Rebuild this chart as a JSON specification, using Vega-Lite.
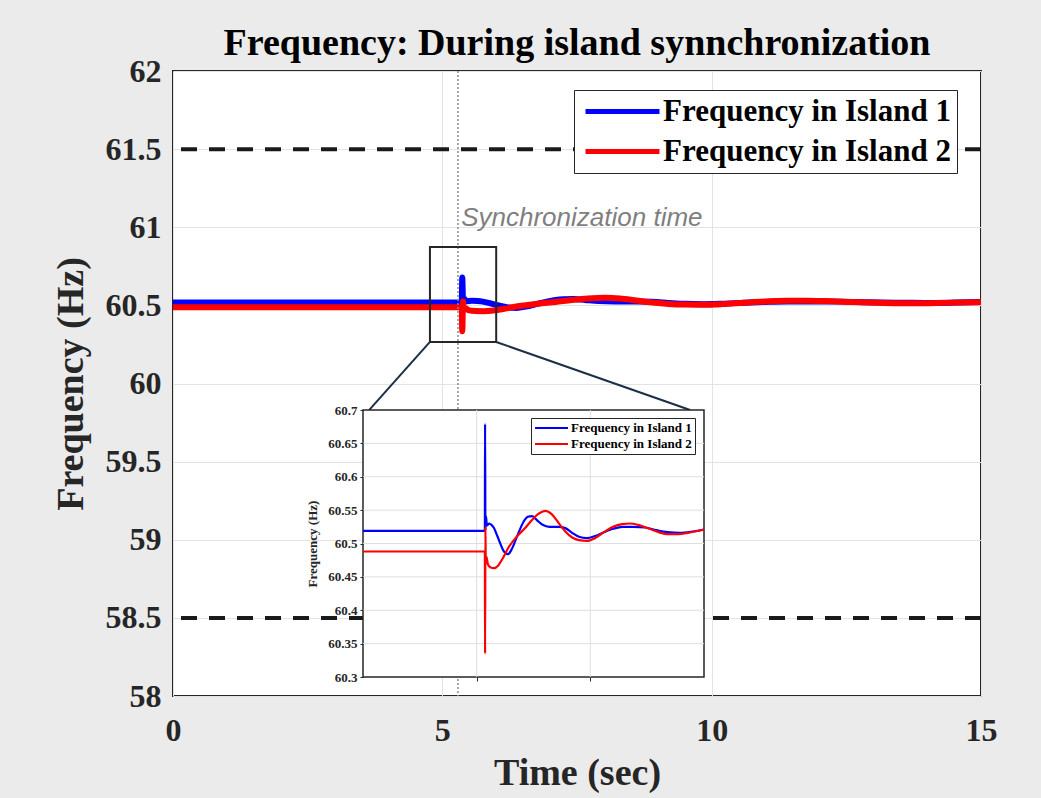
{
  "$schema": "https://vega.github.io/schema/vega-lite/v6.json",
  "width": 808,
  "height": 625,
  "autosize": {"type": "none"},
  "padding": {"left": 173, "top": 71, "right": 60, "bottom": 102},
  "background": "#ebebeb",
  "config": {
    "view": {"fill": "white", "stroke": "#262626", "strokeWidth": 2},
    "font": "Liberation Serif"
  },
  "title": {
    "text": "Frequency: During island synnchronization",
    "font": "Liberation Serif",
    "fontSize": 38,
    "fontWeight": "bold",
    "color": "#000000",
    "anchor": "middle",
    "frame": "group",
    "baseline": "alphabetic",
    "offset": 0,
    "dy": 38
  },
  "datasets": {
    "freq": [
      {"t": 0, "f": 60.519, "s": "Frequency in Island 1"},
      {"t": 5.36, "f": 60.519, "s": "Frequency in Island 1"},
      {"t": 5.37, "f": 60.679, "s": "Frequency in Island 1"},
      {"t": 5.385, "f": 60.52, "s": "Frequency in Island 1"},
      {"t": 5.41, "f": 60.541, "s": "Frequency in Island 1"},
      {"t": 5.45, "f": 60.527, "s": "Frequency in Island 1"},
      {"t": 5.55, "f": 60.53, "s": "Frequency in Island 1"},
      {"t": 5.65, "f": 60.528, "s": "Frequency in Island 1"},
      {"t": 5.75, "f": 60.524, "s": "Frequency in Island 1"},
      {"t": 5.9, "f": 60.512, "s": "Frequency in Island 1"},
      {"t": 6.05, "f": 60.499, "s": "Frequency in Island 1"},
      {"t": 6.2, "f": 60.488, "s": "Frequency in Island 1"},
      {"t": 6.38, "f": 60.484, "s": "Frequency in Island 1"},
      {"t": 6.55, "f": 60.492, "s": "Frequency in Island 1"},
      {"t": 6.78, "f": 60.511, "s": "Frequency in Island 1"},
      {"t": 7.07, "f": 60.533, "s": "Frequency in Island 1"},
      {"t": 7.25, "f": 60.54, "s": "Frequency in Island 1"},
      {"t": 7.44, "f": 60.541, "s": "Frequency in Island 1"},
      {"t": 7.65, "f": 60.535, "s": "Frequency in Island 1"},
      {"t": 7.9, "f": 60.528, "s": "Frequency in Island 1"},
      {"t": 8.2, "f": 60.525, "s": "Frequency in Island 1"},
      {"t": 8.6, "f": 60.525, "s": "Frequency in Island 1"},
      {"t": 8.9, "f": 60.523, "s": "Frequency in Island 1"},
      {"t": 9.2, "f": 60.516, "s": "Frequency in Island 1"},
      {"t": 9.5, "f": 60.51, "s": "Frequency in Island 1"},
      {"t": 9.85, "f": 60.508, "s": "Frequency in Island 1"},
      {"t": 10.2, "f": 60.511, "s": "Frequency in Island 1"},
      {"t": 10.6, "f": 60.517, "s": "Frequency in Island 1"},
      {"t": 11.0, "f": 60.522, "s": "Frequency in Island 1"},
      {"t": 11.4, "f": 60.525, "s": "Frequency in Island 1"},
      {"t": 11.9, "f": 60.525, "s": "Frequency in Island 1"},
      {"t": 12.4, "f": 60.524, "s": "Frequency in Island 1"},
      {"t": 12.9, "f": 60.52, "s": "Frequency in Island 1"},
      {"t": 13.4, "f": 60.517, "s": "Frequency in Island 1"},
      {"t": 13.95, "f": 60.516, "s": "Frequency in Island 1"},
      {"t": 14.5, "f": 60.518, "s": "Frequency in Island 1"},
      {"t": 15, "f": 60.521, "s": "Frequency in Island 1"},
      {"t": 0, "f": 60.488, "s": "Frequency in Island 2"},
      {"t": 5.36, "f": 60.488, "s": "Frequency in Island 2"},
      {"t": 5.37, "f": 60.335, "s": "Frequency in Island 2"},
      {"t": 5.385, "f": 60.525, "s": "Frequency in Island 2"},
      {"t": 5.4, "f": 60.47, "s": "Frequency in Island 2"},
      {"t": 5.43, "f": 60.48, "s": "Frequency in Island 2"},
      {"t": 5.5, "f": 60.468, "s": "Frequency in Island 2"},
      {"t": 5.62, "f": 60.464, "s": "Frequency in Island 2"},
      {"t": 5.76, "f": 60.463, "s": "Frequency in Island 2"},
      {"t": 5.95, "f": 60.467, "s": "Frequency in Island 2"},
      {"t": 6.15, "f": 60.478, "s": "Frequency in Island 2"},
      {"t": 6.4, "f": 60.494, "s": "Frequency in Island 2"},
      {"t": 6.78, "f": 60.511, "s": "Frequency in Island 2"},
      {"t": 7.1, "f": 60.522, "s": "Frequency in Island 2"},
      {"t": 7.4, "f": 60.534, "s": "Frequency in Island 2"},
      {"t": 7.7, "f": 60.544, "s": "Frequency in Island 2"},
      {"t": 8.03, "f": 60.549, "s": "Frequency in Island 2"},
      {"t": 8.3, "f": 60.544, "s": "Frequency in Island 2"},
      {"t": 8.6, "f": 60.531, "s": "Frequency in Island 2"},
      {"t": 8.9, "f": 60.518, "s": "Frequency in Island 2"},
      {"t": 9.2, "f": 60.509, "s": "Frequency in Island 2"},
      {"t": 9.5, "f": 60.505, "s": "Frequency in Island 2"},
      {"t": 9.85, "f": 60.504, "s": "Frequency in Island 2"},
      {"t": 10.2, "f": 60.508, "s": "Frequency in Island 2"},
      {"t": 10.6, "f": 60.517, "s": "Frequency in Island 2"},
      {"t": 11.0, "f": 60.525, "s": "Frequency in Island 2"},
      {"t": 11.4, "f": 60.529, "s": "Frequency in Island 2"},
      {"t": 11.75, "f": 60.53, "s": "Frequency in Island 2"},
      {"t": 12.1, "f": 60.528, "s": "Frequency in Island 2"},
      {"t": 12.6, "f": 60.522, "s": "Frequency in Island 2"},
      {"t": 13.0, "f": 60.517, "s": "Frequency in Island 2"},
      {"t": 13.4, "f": 60.514, "s": "Frequency in Island 2"},
      {"t": 13.87, "f": 60.514, "s": "Frequency in Island 2"},
      {"t": 14.3, "f": 60.516, "s": "Frequency in Island 2"},
      {"t": 15, "f": 60.521, "s": "Frequency in Island 2"}
    ],
    "limits": [{"level": 61.5}, {"level": 58.5}],
    "sync": [{"ts": 5.29, "tx": 5.35, "ty": 61.01, "label": "Synchronization time"}],
    "zoombox": [{"zx0": 4.77, "zx1": 6.0, "zy0": 60.266, "zy1": 60.874}],
    "connectors": [
      {"cx": 4.77, "cy": 60.266, "cx2": 3.64, "cy2": 59.83},
      {"cx": 6.0, "cy": 60.266, "cx2": 9.6, "cy2": 59.83}
    ],
    "insetBox": [{"bx0": 0, "bx1": 15, "by0": 60.3, "by1": 60.7}],
    "insetGridX": [{"gx": 5}, {"gx": 10}],
    "insetGridY": [{"gy": 60.35}, {"gy": 60.4}, {"gy": 60.45}, {"gy": 60.5}, {"gy": 60.55}, {"gy": 60.6}, {"gy": 60.65}]
  },
  "layer": [
    {
      "data": {"name": "freq"},
      "mark": {"type": "line", "strokeWidth": 6, "interpolate": "monotone"},
      "encoding": {
        "x": {
          "field": "t", "type": "quantitative",
          "scale": {"domain": [0, 15], "nice": false, "zero": false},
          "axis": {
            "values": [0, 5, 10, 15], "title": "Time (sec)",
            "labelFont": "Liberation Serif", "labelFontWeight": "bold", "labelFontSize": 32,
            "labelColor": "#262626", "labelPadding": 19, "labelFlush": false,
            "ticks": false, "domain": false,
            "grid": true, "gridColor": "#e3e3e3",
            "titleFont": "Liberation Serif", "titleFontWeight": "bold", "titleFontSize": 38,
            "titleColor": "#262626", "titlePadding": 8
          }
        },
        "y": {
          "field": "f", "type": "quantitative",
          "scale": {"domain": [58, 62], "nice": false, "zero": false},
          "axis": {
            "values": [58, 58.5, 59, 59.5, 60, 60.5, 61, 61.5, 62], "format": "~g",
            "title": "Frequency (Hz)",
            "labelFont": "Liberation Serif", "labelFontWeight": "bold", "labelFontSize": 32,
            "labelColor": "#262626", "labelPadding": 12, "labelFlush": false,
            "ticks": false, "domain": false,
            "grid": true, "gridColor": "#e3e3e3",
            "titleFont": "Liberation Serif", "titleFontWeight": "bold", "titleFontSize": 38,
            "titleColor": "#262626", "titlePadding": 15
          }
        },
        "color": {
          "field": "s", "type": "nominal",
          "scale": {"domain": ["Frequency in Island 1", "Frequency in Island 2"], "range": ["#0000ff", "#ff0000"]},
          "legend": {
            "title": null, "orient": "none", "legendX": 401, "legendY": 19,
            "symbolType": "stroke", "symbolSize": 5476, "symbolStrokeWidth": 5,
            "clipHeight": 31, "rowPadding": 8, "padding": 6, "symbolOffset": 3, "labelOffset": 1,
            "labelFont": "Liberation Serif", "labelFontWeight": "bold", "labelFontSize": 31,
            "labelColor": "#000000", "labelLimit": 0,
            "strokeColor": "#262626", "fillColor": "white"
          }
        }
      }
    },
    {
      "data": {"name": "limits"},
      "mark": {"type": "rule", "color": "#1a1a1a", "strokeWidth": 4, "strokeDash": [16, 12]},
      "encoding": {
        "y": {"field": "level", "type": "quantitative", "scale": {"domain": [58, 62], "nice": false, "zero": false}, "axis": null}
      }
    },
    {
      "data": {"name": "sync"},
      "mark": {"type": "rule", "color": "#8c8c8c", "strokeWidth": 1.5, "strokeDash": [2, 2]},
      "encoding": {
        "x": {"field": "ts", "type": "quantitative", "scale": {"domain": [0, 15], "nice": false, "zero": false}, "axis": null}
      }
    },
    {
      "data": {"name": "sync"},
      "mark": {"type": "text", "font": "Liberation Sans", "fontStyle": "italic", "fontSize": 26, "color": "#7f7f7f", "align": "left", "baseline": "alphabetic"},
      "encoding": {
        "x": {"field": "tx", "type": "quantitative", "scale": {"domain": [0, 15], "nice": false, "zero": false}, "axis": null},
        "y": {"field": "ty", "type": "quantitative", "scale": {"domain": [58, 62], "nice": false, "zero": false}, "axis": null},
        "text": {"field": "label"}
      }
    },
    {
      "data": {"name": "zoombox"},
      "mark": {"type": "rect", "fill": null, "fillOpacity": 0, "stroke": "#262626", "strokeWidth": 2},
      "encoding": {
        "x": {"field": "zx0", "type": "quantitative", "scale": {"domain": [0, 15], "nice": false, "zero": false}, "axis": null},
        "x2": {"field": "zx1"},
        "y": {"field": "zy0", "type": "quantitative", "scale": {"domain": [58, 62], "nice": false, "zero": false}, "axis": null},
        "y2": {"field": "zy1"}
      }
    },
    {
      "data": {"name": "connectors"},
      "mark": {"type": "rule", "color": "#1c2f45", "strokeWidth": 2},
      "encoding": {
        "x": {"field": "cx", "type": "quantitative", "scale": {"domain": [0, 15], "nice": false, "zero": false}, "axis": null},
        "x2": {"field": "cx2"},
        "y": {"field": "cy", "type": "quantitative", "scale": {"domain": [58, 62], "nice": false, "zero": false}, "axis": null},
        "y2": {"field": "cy2"}
      }
    },
    {
      "data": {"name": "insetBox"},
      "mark": {"type": "rect", "fill": "white", "stroke": "#262626", "strokeWidth": 1.5},
      "encoding": {
        "x": {"field": "bx0", "type": "quantitative", "scale": {"domain": [0, 15], "range": [190, 531], "nice": false, "zero": false}, "axis": null},
        "x2": {"field": "bx1"},
        "y": {"field": "by0", "type": "quantitative", "scale": {"domain": [60.3, 60.7], "range": [606, 339], "nice": false, "zero": false}, "axis": null},
        "y2": {"field": "by1"}
      }
    },
    {
      "data": {"name": "insetGridX"},
      "mark": {"type": "rule", "color": "#dedede", "strokeWidth": 1},
      "encoding": {
        "x": {"field": "gx", "type": "quantitative", "scale": {"domain": [0, 15], "range": [190, 531], "nice": false, "zero": false}, "axis": null},
        "y": {"datum": 60.3, "type": "quantitative", "scale": {"domain": [60.3, 60.7], "range": [606, 339], "nice": false, "zero": false}, "axis": null},
        "y2": {"datum": 60.7}
      }
    },
    {
      "data": {"name": "insetGridY"},
      "mark": {"type": "rule", "color": "#dedede", "strokeWidth": 1},
      "encoding": {
        "y": {"field": "gy", "type": "quantitative", "scale": {"domain": [60.3, 60.7], "range": [606, 339], "nice": false, "zero": false}, "axis": null},
        "x": {"datum": 0, "type": "quantitative", "scale": {"domain": [0, 15], "range": [190, 531], "nice": false, "zero": false}, "axis": null},
        "x2": {"datum": 15}
      }
    },
    {
      "data": {"name": "freq"},
      "mark": {"type": "line", "strokeWidth": 2.2, "interpolate": "monotone"},
      "encoding": {
        "x": {
          "field": "t", "type": "quantitative",
          "scale": {"domain": [0, 15], "range": [190, 531], "nice": false, "zero": false},
          "axis": {
            "orient": "bottom", "offset": -19, "values": [5, 10], "labels": false,
            "domain": false, "grid": false, "ticks": true, "tickSize": 4, "tickColor": "#262626",
            "title": null, "zindex": 1
          }
        },
        "y": {
          "field": "f", "type": "quantitative",
          "scale": {"domain": [60.3, 60.7], "range": [606, 339], "nice": false, "zero": false},
          "axis": {
            "orient": "left", "offset": -190,
            "values": [60.3, 60.35, 60.4, 60.45, 60.5, 60.55, 60.6, 60.65, 60.7], "format": ".4~g",
            "labelFont": "Liberation Serif", "labelFontWeight": "bold", "labelFontSize": 13,
            "labelColor": "#262626", "labelPadding": 3, "labelFlush": false,
            "domain": false, "grid": false, "ticks": true, "tickSize": 3, "tickColor": "#262626",
            "title": "Frequency (Hz)", "titleFont": "Liberation Serif", "titleFontWeight": "bold",
            "titleFontSize": 13, "titleColor": "#262626", "titlePadding": 8, "zindex": 1
          }
        },
        "color": {
          "field": "s", "type": "nominal",
          "scale": {"domain": ["Frequency in Island 1", "Frequency in Island 2"], "range": ["#0000ff", "#ff0000"]},
          "legend": {
            "title": null, "orient": "none", "legendX": 358, "legendY": 347,
            "symbolType": "stroke", "symbolSize": 1089, "symbolStrokeWidth": 2,
            "clipHeight": 14, "rowPadding": 2, "padding": 3, "symbolOffset": 0, "labelOffset": 2,
            "labelFont": "Liberation Serif", "labelFontWeight": "bold", "labelFontSize": 13,
            "labelColor": "#000000", "labelLimit": 0,
            "strokeColor": "#262626", "fillColor": "white"
          }
        }
      }
    }
  ],
  "resolve": {
    "scale": {"x": "independent", "y": "independent", "color": "independent"},
    "axis": {"x": "independent", "y": "independent"}
  }
}
